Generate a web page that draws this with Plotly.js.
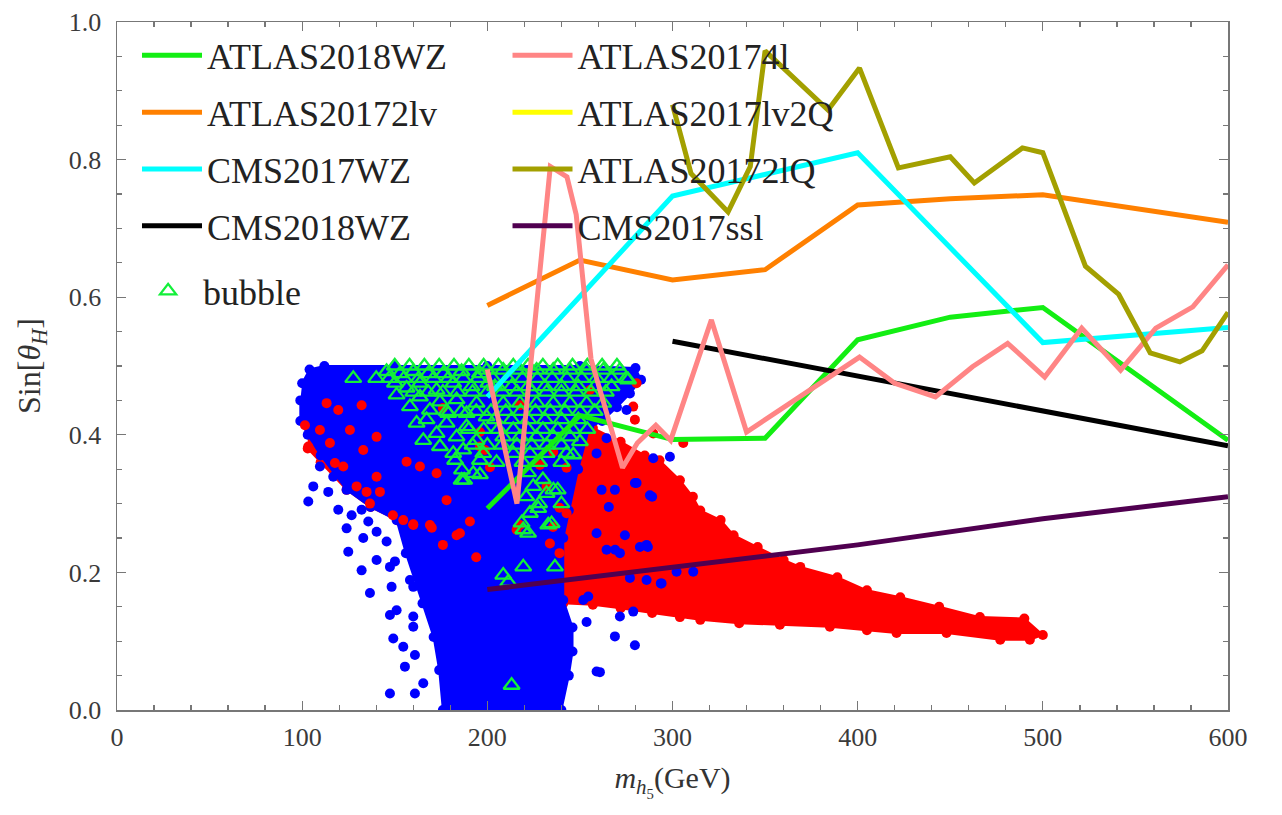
<!DOCTYPE html>
<html><head><meta charset="utf-8">
<script src="https://cdn.plot.ly/plotly-3.0.1.min.js"></script>
<style>html,body{margin:0;padding:0;background:#fff}</style>
</head><body><div id="chart" style="width:1282px;height:815px"></div>
<script>
// ---- exclusion-limit curves ----
const atlas2018wzX = [200,250,300,350,400,450,500,600];
const atlas2018wzY = [0.293,0.428,0.393,0.395,0.538,0.571,0.585,0.392];
const atlas20172lvX = [200,250,300,350,400,450,500,600];
const atlas20172lvY = [0.588,0.654,0.625,0.64,0.734,0.743,0.749,0.709];
const cms2017wzX = [200,300,400,500,600];
const cms2017wzY = [0.455,0.747,0.81,0.534,0.556];
const cms2018wzX = [300,600];
const cms2018wzY = [0.536,0.384];
const atlas20174lX = [200,216,234,243,248,252,256,273,281,291,299,321,340,401,420,442,462,481,501,521,542,561,581,600];
const atlas20174lY = [0.495,0.30,0.79,0.775,0.72,0.62,0.51,0.352,0.388,0.414,0.392,0.567,0.404,0.513,0.475,0.455,0.499,0.533,0.484,0.555,0.494,0.555,0.586,0.647];
const atlas2017lv2QX = [null];
const atlas2017lv2QY = [null];
const atlas20172lQX = [300,310,330,342,350,384,401,422,450,463,489,500,523,541,558,574,586,600];
const atlas20172lQY = [0.88,0.78,0.724,0.79,0.958,0.872,0.933,0.788,0.804,0.766,0.817,0.81,0.645,0.604,0.519,0.506,0.522,0.578];
const cms2017sslX = [200,300,400,500,600];
const cms2017sslY = [0.175,0.208,0.24,0.278,0.31];

// ---- scan points: dense cloud outlines ----
const redCloudX = [103,110,130,150,175,200,225,240,257,272,285,293,304,311,315,326,333,346,360,369,389,405,423,444,466,490,500,493,477,448,421,405,385,358,336,315,304,289,272,257,241,236,220,200,178,165,152,137,124,110,103];
const redCloudY = [0.42,0.435,0.43,0.42,0.42,0.42,0.42,0.42,0.41,0.39,0.37,0.363,0.334,0.31,0.29,0.276,0.254,0.237,0.218,0.208,0.193,0.174,0.164,0.15,0.135,0.133,0.109,0.102,0.102,0.112,0.112,0.116,0.121,0.124,0.126,0.131,0.135,0.141,0.148,0.153,0.155,0.2,0.24,0.25,0.255,0.26,0.275,0.295,0.32,0.36,0.38];
const blueCloudX = [100,104,112,150,200,250,280,283,277,270,262,255,249,244,241,241,246,246,244,240,176,174,171,165,156,151,137,124,110,103,99,99];
const blueCloudY = [0.475,0.495,0.5,0.5,0.5,0.5,0.497,0.48,0.46,0.44,0.42,0.41,0.35,0.29,0.25,0.16,0.12,0.085,0.05,0.0,0.0,0.058,0.106,0.155,0.228,0.276,0.295,0.32,0.37,0.40,0.42,0.45];

// ---- scan points: individual ----
const redDotX = [101.5,103.3,109.6,115.0,117.7,122.2,125.8,132.1,129.4,134.8,140.2,136.6,154.6,163.6,172.6,178.0,169.0,185.2,196.0,198.7,156.4,140.2,113.2,119.5,133.0,160,170,176,194,215.8,233.8,239,201.4,232,242.8,235.5,250,255.4,280.6,278.8,279.7,289.6,305.8,
  183.4,190.6,217.6,228.4,235.6,242.8,239,250,246,160,176,196,217.6,149,142];
const redDotY = [0.414,0.383,0.407,0.388,0.359,0.354,0.407,0.443,0.325,0.317,0.339,0.300,0.276,0.354,0.344,0.305,0.269,0.257,0.383,0.378,0.361,0.397,0.446,0.436,0.378,0.27,0.265,0.24,0.222,0.262,0.242,0.228,0.353,0.325,0.286,0.266,0.305,0.465,0.475,0.441,0.422,0.402,0.388,
  0.254,0.274,0.269,0.356,0.375,0.352,0.294,0.265,0.235,0.269,0.439,0.404,0.443,0.283,0.317];
const blueDotX = [124.0,133.0,124.9,145.6,140.2,132.1,147.4,150.1,136.6,148.3,158.2,160.0,147.4,151.0,160.0,160.0,167.2,149.2,154.6,160.9,155.5,147.4,160.9,165.4,103.3,106.0,109.6,114.1,116.8,119.5,126.7,132.1,135.7,140.2,253.6,259,268.9,279.7,271.6,278.8,251.8,254.5,274.3,264.4,271.6,282.4,286,277,286,294.1,302.2,311.2,259,289,279.7,286.7,293.7,269,265.6,260.8,259,264.4,261.7,268.9,280.6,287.8,289.6,298.6,275.2,268,273.4];
const blueDotY = [0.264,0.250,0.230,0.245,0.218,0.203,0.208,0.216,0.170,0.179,0.189,0.179,0.138,0.145,0.136,0.121,0.157,0.104,0.092,0.080,0.063,0.024,0.024,0.039,0.303,0.325,0.354,0.317,0.339,0.291,0.283,0.291,0.274,0.259,0.128,0.056,0.107,0.094,0.136,0.143,0.160,0.165,0.254,0.233,0.228,0.237,0.24,0.192,0.189,0.184,0.201,0.201,0.257,0.31,0.33,0.237,0.184,0.233,0.295,0.055,0.373,0.395,0.320,0.320,0.330,0.312,0.366,0.368,0.436,0.453,0.475];
const bubbleX = [127.6,145.6,150.1,152.8,156.4,160.0,163.6,168.1,172.6,176.2,181.6,186.1,191.5,196.0,200.5,151.0,158.2,163.6,169.0,174.4,178.9,183.4,188.8,194.2,199.6,161.8,167.2,172.6,178.0,183.4,188.8,194.2,165.4,174.4,181.6,187.0,186.1,192.4,196.0,197.8,
  199.6,208.6,217.6,226.6,235.6,244.6,253.6,262.6,271.6,204.1,213.1,222.1,231.1,240.1,249.1,258.1,267.1,208.6,217.6,226.6,235.6,244.6,253.6,262.6,204.1,213.1,222.1,231.1,240.1,249.1,208.6,217.6,226.6,235.6,244.6,214,223,232,242.8,276,
  246.4,224.8,232,227.5,223,234.7,219.4,222,232.9,219.4,236.5,208.6,211.3,213.1,218.5,235.7,182.6,186.3,196,187.5,
  150,158,166,174,182,190,198,206,214,222,230,238,246,254,262,270,
  140,147,155,163,171,179,187,195,203,211,219,227,235,243,251,259,267,275,
  160,168,176,184,192,200,208,216,224,232,240,248,256,264,
  178,186,194,202,210,218,226,234,242,250,258,
  190,198,206,214,222,230,238,246,254,
  192,200,208,216,224,232,240,
  205,219,228,240,222,230,238,228,240,221,250];
const bubbleY = [0.482,0.492,0.475,0.489,0.468,0.492,0.475,0.489,0.465,0.489,0.475,0.492,0.470,0.489,0.475,0.458,0.441,0.455,0.436,0.448,0.431,0.451,0.431,0.446,0.426,0.417,0.422,0.402,0.417,0.397,0.412,0.392,0.392,0.383,0.373,0.378,0.334,0.344,0.363,0.373,
  0.494,0.494,0.494,0.494,0.494,0.494,0.494,0.494,0.494,0.470,0.470,0.470,0.470,0.470,0.470,0.470,0.470,0.446,0.446,0.446,0.446,0.446,0.446,0.446,0.422,0.422,0.422,0.422,0.422,0.422,0.397,0.397,0.397,0.397,0.397,0.373,0.373,0.373,0.373,0.48,
  0.371,0.325,0.315,0.293,0.286,0.271,0.262,0.257,0.269,0.208,0.208,0.196,0.186,0.036,0.272,0.32,0.363,0.349,0.342,0.334,
  0.5,0.5,0.5,0.5,0.5,0.5,0.5,0.5,0.5,0.5,0.5,0.5,0.5,0.5,0.5,0.5,
  0.482,0.482,0.482,0.482,0.482,0.482,0.482,0.482,0.482,0.482,0.482,0.482,0.482,0.482,0.482,0.482,0.482,0.482,
  0.462,0.462,0.462,0.462,0.462,0.462,0.462,0.462,0.462,0.462,0.462,0.462,0.462,0.462,
  0.434,0.434,0.434,0.434,0.434,0.434,0.434,0.434,0.434,0.434,0.434,
  0.408,0.408,0.408,0.408,0.408,0.408,0.408,0.408,0.408,
  0.385,0.385,0.385,0.385,0.385,0.385,0.385,
  0.36,0.36,0.36,0.36,0.345,0.335,0.32,0.30,0.30,0.31,0.39];

const SERIF = 'Liberation Serif, Times New Roman, serif';
const RED = '#ff0000', BLUE = '#0000ff', BUB = '#12f03a';

function cloud(x, y, c) {
  return {type:'scatter', x:x, y:y, mode:'lines+markers', fill:'toself', fillcolor:c,
    line:{color:c, width:2}, marker:{color:c, size:10}, showlegend:false, hoverinfo:'skip'};
}
function dots(x, y, c) {
  return {type:'scatter', x:x, y:y, mode:'markers', marker:{color:c, size:10},
    showlegend:false, hoverinfo:'skip'};
}
function curve(name, x, y, c, leg, rank) {
  return {type:'scatter', name:name, x:x, y:y, mode:'lines', line:{color:c, width:5},
    legend:leg, legendgroup:name, legendrank:rank};
}

const data = [
  cloud(redCloudX, redCloudY, RED),
  cloud(blueCloudX, blueCloudY, BLUE),
  dots(redDotX, redDotY, RED),
  dots(blueDotX, blueDotY, BLUE),
  {type:'scatter', name:'bubble', x:bubbleX, y:bubbleY, mode:'markers',
   marker:{symbol:'triangle-up-open', size:14, color:BUB, line:{width:2.3, color:BUB}},
   legend:'legend3', legendgroup:'bubble'},
  curve('ATLAS2018WZ', atlas2018wzX, atlas2018wzY, '#13ee13', 'legend', 1),
  curve('ATLAS20172lv', atlas20172lvX, atlas20172lvY, '#ff8000', 'legend', 2),
  curve('CMS2017WZ', cms2017wzX, cms2017wzY, '#00ffff', 'legend', 3),
  curve('CMS2018WZ', cms2018wzX, cms2018wzY, '#000000', 'legend', 4),
  curve('ATLAS20174l', atlas20174lX, atlas20174lY, '#ff8585', 'legend2', 5),
  curve('ATLAS2017lv2Q', atlas2017lv2QX, atlas2017lv2QY, '#ffff00', 'legend2', 6),
  curve('ATLAS20172lQ', atlas20172lQX, atlas20172lQY, '#a3a000', 'legend2', 7),
  curve('CMS2017ssl', cms2017sslX, cms2017sslY, '#500050', 'legend2', 8)
];

const legFont = {family:SERIF, size:36, color:'#222'};
const legBase = {font:legFont, bgcolor:'rgba(0,0,0,0)', borderwidth:0, itemwidth:60,
  traceorder:'grouped', tracegroupgap:7, xanchor:'left', yanchor:'top', itemclick:false};

const axBase = {
  showgrid:false, zeroline:false, showline:true, linecolor:'#777', linewidth:1.5,
  mirror:'allticks', ticks:'inside', ticklen:9, tickwidth:1.3, tickcolor:'#777',
  tickfont:{family:SERIF, size:26, color:'#3a3a3a'}
};

const layout = {
  width:1282, height:815,
  margin:{l:117, r:54, t:22, b:105},
  paper_bgcolor:'#fff', plot_bgcolor:'#fff',
  showlegend:true,
  xaxis:Object.assign({}, axBase, {range:[0,600], dtick:100, tick0:0, ticklabelstandoff:3,
    minor:{dtick:20, ticklen:5, ticks:'inside', tickcolor:'#777', showgrid:false},
    title:{text:'<i>m</i><sub><i>h</i><sub>5</sub></sub>(GeV)', font:{family:SERIF, size:30, color:'#333'}, standoff:16}}),
  yaxis:Object.assign({}, axBase, {range:[0,1], dtick:0.2, tick0:0, tickformat:'.1f', ticklabelstandoff:9,
    minor:{dtick:0.05, ticklen:5, ticks:'inside', tickcolor:'#777', showgrid:false},
    title:{text:'Sin[<i>θ</i><sub><i>H</i></sub>]', font:{family:SERIF, size:32, color:'#333'}, standoff:18}}),
  legend:Object.assign({}, legBase, {x:0.018, y:0.995}),
  legend2:Object.assign({}, legBase, {x:0.3515, y:0.995}),
  legend3:Object.assign({}, legBase, {x:0.0145, y:0.6526})
};

Plotly.newPlot('chart', data, layout, {displayModeBar:false, staticPlot:true});
</script></body></html>
